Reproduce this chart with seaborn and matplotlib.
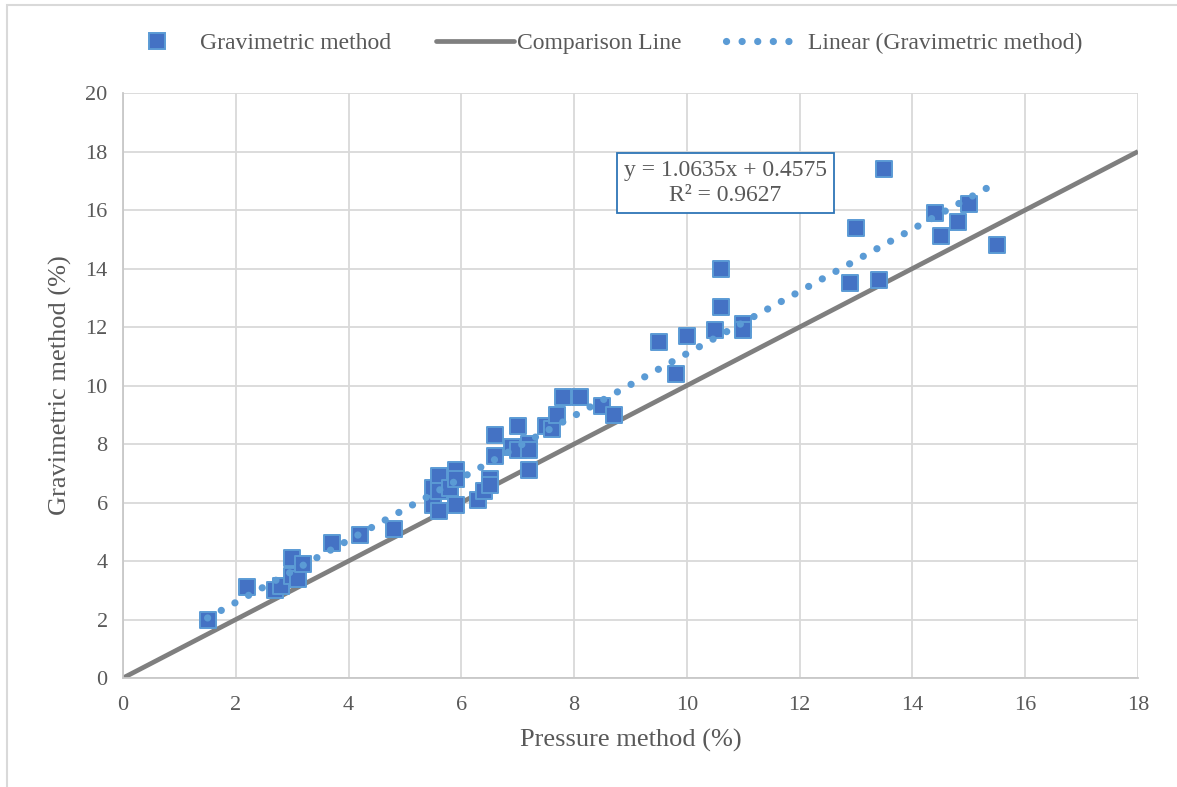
import matplotlib
matplotlib.use("Agg")
import matplotlib.pyplot as plt
from matplotlib.lines import Line2D
import numpy as np
import pandas as pd
import seaborn as sns

# Moisture content measured by the two methods (%)
pressure = [1.5, 2.2, 2.7, 2.8, 3.0, 3.0, 3.1, 3.2, 3.7, 4.2, 4.8,
            5.5, 5.5, 5.6, 5.6, 5.6, 5.8, 5.9, 5.9, 5.9, 6.3, 6.4,
            6.5, 6.5, 6.6, 6.6, 6.9, 7.0, 7.0, 7.2, 7.2, 7.2, 7.5,
            7.6, 7.7, 7.8, 8.1, 8.5, 8.7, 9.5, 9.8, 10.0, 10.5, 10.6,
            10.6, 11.0, 11.0, 12.9, 13.0, 13.4, 13.5, 14.4, 14.5, 14.8,
            15.0, 15.5]
gravimetric = [2.0, 3.1, 3.0, 3.15, 4.1, 3.5, 3.4, 3.9, 4.6, 4.9, 5.1,
               6.5, 5.9, 6.9, 6.4, 5.7, 6.5, 7.1, 6.8, 5.9, 6.1, 6.4,
               6.8, 6.6, 8.3, 7.6, 7.9, 8.6, 7.8, 8.0, 7.8, 7.1, 8.6,
               8.5, 9.0, 9.6, 9.6, 9.3, 9.0, 11.5, 10.4, 11.7, 11.9, 14.0,
               12.7, 12.1, 11.9, 13.5, 15.4, 13.6, 17.4, 15.9, 15.1, 15.6,
               16.2, 14.8]

# Fitted trendline coefficients
slope = 1.0635
intercept = 0.4575
r_squared = 0.9627

# 1:1 comparison line range
comparison_x = [0, 18]

x_ticks = list(range(0, 19, 2))
y_ticks = list(range(0, 21, 2))

sns.set_theme(style="white")
plt.rcParams["font.family"] = ["Liberation Serif", "DejaVu Serif"]

text_color = "#595959"
grid_color = "#d9d9d9"
marker_fill = "#4472C4"
marker_edge = "#5B9BD5"
trend_color = "#5B9BD5"
line_gray = "#7f7f7f"
dot_style = (0, (0.01, 2.15))

fig = plt.figure(figsize=(11.77, 7.87), dpi=100)
ax = fig.add_axes([0.1045, 0.1385, 0.8624, 0.7433])

df = pd.DataFrame({"Pressure": pressure, "Gravimetric": gravimetric})
comp = pd.DataFrame({"x": comparison_x, "y": comparison_x})
fit_x = np.array([min(pressure), max(pressure)])
fit = pd.DataFrame({"x": fit_x, "y": slope * fit_x + intercept})

# Comparison (1:1) line
sns.lineplot(data=comp, x="x", y="y", ax=ax, color=line_gray, lw=3.4,
             solid_capstyle="butt", zorder=2)

# Measured points
sns.scatterplot(data=df, x="Pressure", y="Gravimetric", ax=ax, marker="s",
                s=125, color=marker_fill, edgecolor=marker_edge,
                linewidth=1.4, zorder=3)

# Linear trendline, dotted
sns.lineplot(data=fit, x="x", y="y", ax=ax, color=trend_color, lw=5.2,
             linestyle=dot_style, dash_capstyle="round", zorder=4)

ax.set_xlim(0, 18)
ax.set_ylim(0, 20)
ax.set_xticks(x_ticks)
ax.set_yticks(y_ticks)
ax.grid(True, color=grid_color, lw=1.3)
ax.set_axisbelow(True)
for side in ["top", "right"]:
    ax.spines[side].set_visible(False)
for side in ["left", "bottom"]:
    ax.spines[side].set_color("#c8c8c8")
    ax.spines[side].set_linewidth(1.3)
ax.tick_params(axis="both", length=0, labelsize=16, labelcolor=text_color)
ax.tick_params(axis="x", pad=13)
ax.tick_params(axis="y", pad=11)

ax.set_xlabel("Pressure method (%)", fontsize=19, color=text_color, labelpad=10)
ax.set_ylabel("Gravimetric method (%)", fontsize=19, color=text_color, labelpad=10)

# Trendline equation box
ax.text(10.68, 16.92, f"y = {slope}x + {intercept}\nR² = {r_squared}",
        fontsize=17, color=text_color, ha="center", va="center",
        linespacing=1.25, zorder=5,
        bbox=dict(boxstyle="square,pad=0.3", fc="white", ec="#2E75B6", lw=1.3))

# Legend across the top
handles = [
    Line2D([], [], marker="s", linestyle="none", markersize=11,
           markerfacecolor=marker_fill, markeredgecolor=marker_edge,
           markeredgewidth=1.4),
    Line2D([], [], color=line_gray, lw=3.4),
    Line2D([], [], color=trend_color, lw=5.2, linestyle=dot_style,
           dash_capstyle="round"),
]
labels = ["Gravimetric method", "Comparison Line", "Linear (Gravimetric method)"]
fig.legend(handles, labels, loc="center", bbox_to_anchor=(0.51, 0.945),
           ncol=3, frameon=False, fontsize=17, labelcolor=text_color,
           handlelength=3.3, handletextpad=0.15, columnspacing=1.9)

# Chart border
fig.add_artist(plt.Rectangle((7 / 1177, -0.1), 1.2, 1 - 5 / 787 + 0.1,
                             transform=fig.transFigure, fill=False,
                             ec=grid_color, lw=1.5))

fig.savefig("out.png", dpi=100, facecolor="white")
